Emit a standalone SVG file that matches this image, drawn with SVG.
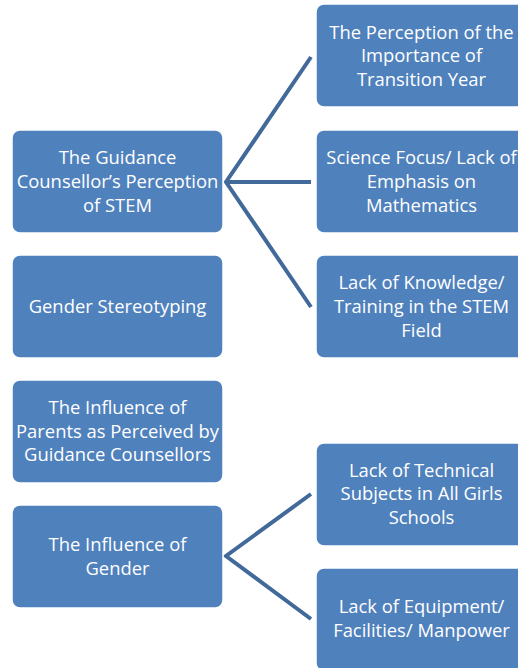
<svg xmlns="http://www.w3.org/2000/svg" width="518" height="668" viewBox="0 0 518 668">
  <style>
    .box { fill: #4F81BD; stroke: #FFFFFF; stroke-width: 1.5; }
    .lbl { fill: #FFFFFF; font-family: "Open Sans", "Liberation Sans", sans-serif; font-size: 18.4px; text-anchor: middle; }
    .link { fill: none; stroke: #41699A; stroke-width: 4; stroke-linejoin: miter; }
  </style>
  <rect width="518" height="668" fill="#FFFFFF"/>

  <g id="connectors">
    <path class="link" d="M311,57 L226,182 L311,307"/>
    <path class="link" d="M226,182 L311,182"/>
    <path class="link" d="M311,494 L226,556 L311,619"/>
  </g>

  <g id="guidance-perception">
    <rect class="box" x="12" y="130" width="211" height="103" rx="8"/>
    <text class="lbl" x="117.5" y="164">The Guidance</text>
    <text class="lbl" x="117.5" y="188">Counsellor’s Perception</text>
    <text class="lbl" x="117.5" y="212">of STEM</text>
  </g>

  <g id="gender-stereotyping">
    <rect class="box" x="12" y="255" width="211" height="103" rx="8"/>
    <text class="lbl" x="117.5" y="313">Gender Stereotyping</text>
  </g>

  <g id="parents-influence">
    <rect class="box" x="12" y="380" width="211" height="103" rx="8"/>
    <text class="lbl" x="117.5" y="414">The Influence of</text>
    <text class="lbl" x="117.5" y="438">Parents as Perceived by</text>
    <text class="lbl" x="117.5" y="461">Guidance Counsellors</text>
  </g>

  <g id="gender-influence">
    <rect class="box" x="12" y="505" width="211" height="103" rx="8"/>
    <text class="lbl" x="117.5" y="551">The Influence of</text>
    <text class="lbl" x="117.5" y="575">Gender</text>
  </g>

  <g id="transition-year">
    <rect class="box" x="316" y="4" width="211" height="103" rx="8"/>
    <text class="lbl" x="421.5" y="39">The Perception of the</text>
    <text class="lbl" x="421.5" y="62">Importance of</text>
    <text class="lbl" x="421.5" y="86">Transition Year</text>
  </g>

  <g id="science-focus">
    <rect class="box" x="316" y="130" width="211" height="103" rx="8"/>
    <text class="lbl" x="421.5" y="164">Science Focus/ Lack of</text>
    <text class="lbl" x="421.5" y="188">Emphasis on</text>
    <text class="lbl" x="421.5" y="212">Mathematics</text>
  </g>

  <g id="knowledge-training">
    <rect class="box" x="316" y="255" width="211" height="103" rx="8"/>
    <text class="lbl" x="421.5" y="289">Lack of Knowledge/</text>
    <text class="lbl" x="421.5" y="313">Training in the STEM</text>
    <text class="lbl" x="421.5" y="337">Field</text>
  </g>

  <g id="technical-subjects">
    <rect class="box" x="316" y="443" width="211" height="103" rx="8"/>
    <text class="lbl" x="421.5" y="477">Lack of Technical</text>
    <text class="lbl" x="421.5" y="500">Subjects in All Girls</text>
    <text class="lbl" x="421.5" y="524">Schools</text>
  </g>

  <g id="equipment-facilities">
    <rect class="box" x="316" y="568" width="211" height="103" rx="8"/>
    <text class="lbl" x="421.5" y="613">Lack of Equipment/</text>
    <text class="lbl" x="421.5" y="637">Facilities/ Manpower</text>
  </g>
</svg>
